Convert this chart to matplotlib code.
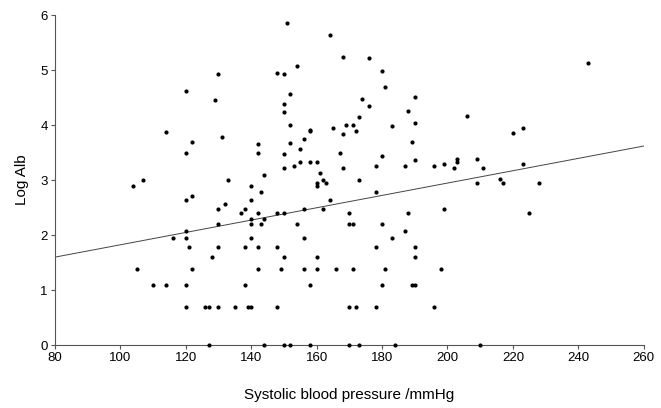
import matplotlib
matplotlib.use('Agg')
import matplotlib.pyplot as plt

# ------------------------------ Данные --------------------------------

sbp = [130, 120, 129, 114, 122, 131, 142, 120, 142, 107, 133,
       104, 140, 120, 122, 140, 132, 130, 138, 137, 142, 140, 130, 140, 120,
       116, 120, 140, 121, 130, 138, 142, 128, 105, 122, 142, 110, 114, 120,
       138, 120, 126, 127, 130, 135, 139, 140,
       151, 164, 168, 176, 154, 148, 150, 180, 181, 152, 150, 150, 174, 176,
       190, 188, 190, 173, 152, 158, 158, 165, 169, 171, 172, 183, 168, 156,
       152, 155, 150, 167, 189, 180, 155, 158, 160, 153, 150, 168, 178, 187,
       190, 196, 199, 144, 161, 162, 173,
       160, 160, 163, 143, 178, 164, 148, 150, 156, 162, 170, 188, 144, 143,
       170, 171, 154, 180, 187, 156, 183, 148, 178, 190, 150, 160, 190, 149,
       156, 160, 166, 171, 181, 198, 158, 180, 189, 190, 148, 170, 172, 178,
       196, 199,
       243, 206, 220, 223, 202, 203, 203, 209, 211, 223, 216,
       209, 217, 228, 225,
       127, 144, 150, 152, 158, 170, 173, 184, 210]

log_alb = [4.93, 4.62, 4.45, 3.88, 3.69, 3.79, 3.65, 3.50, 3.50, 3.00, 3.00,
           2.89, 2.89, 2.64, 2.71, 2.64, 2.56, 2.48, 2.48, 2.40, 2.40, 2.30, 2.20, 2.20, 2.08,
           1.95, 1.95, 1.95, 1.79, 1.79, 1.79, 1.79, 1.61, 1.39, 1.39, 1.39, 1.10, 1.10, 1.10,
           1.10, 0.69, 0.69, 0.69, 0.69, 0.69, 0.69, 0.69,
           5.86, 5.64, 5.24, 5.22, 5.07, 4.95, 4.93, 4.98, 4.69, 4.56, 4.38, 4.24, 4.48, 4.35,
           4.51, 4.26, 4.03, 4.15, 4.00, 3.89, 3.91, 3.94, 4.00, 4.00, 3.90, 3.98, 3.83, 3.75,
           3.67, 3.56, 3.47, 3.50, 3.69, 3.44, 3.33, 3.33, 3.33, 3.26, 3.22, 3.22, 3.26, 3.26,
           3.37, 3.26, 3.30, 3.10, 3.13, 3.00, 3.00,
           2.95, 2.89, 2.94, 2.78, 2.78, 2.64, 2.40, 2.40, 2.48, 2.48, 2.40, 2.40, 2.30, 2.20,
           2.20, 2.20, 2.20, 2.20, 2.08, 1.95, 1.95, 1.79, 1.79, 1.79, 1.61, 1.61, 1.61, 1.39,
           1.39, 1.39, 1.39, 1.39, 1.39, 1.39, 1.10, 1.10, 1.10, 1.10, 0.69, 0.69, 0.69, 0.69,
           0.69, 2.48,
           5.13, 4.17, 3.85, 3.95, 3.22, 3.38, 3.33, 3.38, 3.22, 3.30, 3.02,
           2.95, 2.95, 2.95, 2.40,
           0, 0, 0, 0, 0, 0, 0, 0, 0]

fit_x = [80, 260]          # линия регрессии
fit_y = [1.60, 3.62]

x_ticks = [80, 100, 120, 140, 160, 180, 200, 220, 240, 260]
y_ticks = [0, 1, 2, 3, 4, 5, 6]

# ------------------------------ График --------------------------------

plt.rcParams['font.family'] = ['Liberation Sans', 'DejaVu Sans']

fig = plt.figure(figsize=(6.61, 4.08), dpi=100)
ax = fig.add_axes([0.083, 0.154, 0.891, 0.809])

ax.plot(fit_x, fit_y, color='#444444', linewidth=0.7)
ax.scatter(sbp, log_alb, s=9, color='black', linewidths=0, clip_on=False, zorder=3)

ax.set_xlim(80, 260)
ax.set_ylim(0, 6)
ax.set_xticks(x_ticks)
ax.set_yticks(y_ticks)

for side in ['top', 'right']:
    ax.spines[side].set_visible(False)
for side in ['left', 'bottom']:
    ax.spines[side].set_color('#555555')
    ax.spines[side].set_linewidth(0.8)

ax.tick_params(direction='out', length=3, width=0.8, color='#555555',
               labelsize=9.5, pad=2)

ax.set_xlabel('Systolic blood pressure /mmHg', fontsize=11, labelpad=17)
ax.set_ylabel('Log Alb', fontsize=11, labelpad=8)

fig.savefig('out.png', dpi=100)
